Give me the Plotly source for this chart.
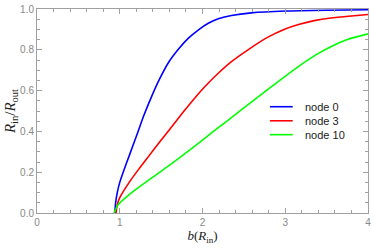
import plotly.graph_objects as go

# node 0 (blue)
x_node0 = [0.94, 0.95, 0.97, 1.0, 1.05, 1.114, 1.213, 1.293, 1.40, 1.473, 1.593, 1.713, 1.83, 1.952, 2.07, 2.20, 2.35, 2.59, 3.00, 3.50, 4.00]
y_node0 = [0.0, 0.05, 0.10, 0.15, 0.21, 0.28, 0.39, 0.48, 0.585, 0.65, 0.74, 0.805, 0.857, 0.898, 0.93, 0.953, 0.968, 0.981, 0.99, 0.994, 0.996]

# node 3 (red)
x_node3 = [0.955, 0.97, 1.0, 1.114, 1.23, 1.353, 1.47, 1.593, 1.772, 1.91, 2.03, 2.19, 2.35, 2.55, 2.79, 3.00, 3.15, 3.35, 3.55, 3.80, 4.00]
y_node3 = [0.0, 0.04, 0.075, 0.15, 0.215, 0.28, 0.342, 0.405, 0.497, 0.565, 0.62, 0.685, 0.742, 0.80, 0.862, 0.902, 0.923, 0.943, 0.956, 0.966, 0.973]

# node 10 (green)
x_node10 = [0.93, 0.974, 1.114, 1.353, 1.593, 1.832, 2.03, 2.19, 2.35, 2.61, 2.95, 3.15, 3.35, 3.55, 3.75, 4.00]
y_node10 = [0.0, 0.037, 0.09, 0.162, 0.232, 0.305, 0.367, 0.418, 0.468, 0.55, 0.655, 0.715, 0.77, 0.815, 0.85, 0.878]

series_names = ["node 0", "node 3", "node 10"]
series_colors = ["#0000ff", "#ff0000", "#00ff00"]

x_ticks = [0, 1, 2, 3, 4]
y_ticks = [0.0, 0.2, 0.4, 0.6, 0.8, 1.0]
y_ticklabels = ["0.0", "0.2", "0.4", "0.6", "0.8", "1.0"]

fig = go.Figure()
for xs, ys, name, col in zip([x_node0, x_node3, x_node10], [y_node0, y_node3, y_node10], series_names, series_colors):
    fig.add_trace(go.Scatter(x=xs, y=ys, mode="lines", name=name, showlegend=False,
                             line=dict(color=col, width=1.6, shape="spline", smoothing=0.6)))

# manual legend (compact, like the reference)
leg_line_x0, leg_line_x1, leg_text_x = 0.7036, 0.7725, 0.805
leg_rows_y = [0.521, 0.452, 0.384]
for name, col, yy in zip(series_names, series_colors, leg_rows_y):
    fig.add_shape(type="line", xref="paper", yref="paper", x0=leg_line_x0, x1=leg_line_x1,
                  y0=yy, y1=yy, line=dict(color=col, width=1.6))
    fig.add_annotation(xref="paper", yref="paper", x=leg_text_x, y=yy, text=name, showarrow=False,
                       xanchor="left", yanchor="middle",
                       font=dict(family="Liberation Sans", size=11, color="#222"))

axis_col = "#a0a0a0"
lab_col = "#888888"
common = dict(showgrid=False, zeroline=False, showline=True, linecolor=axis_col, linewidth=1,
              mirror="ticks", ticks="inside", ticklen=5, tickcolor=axis_col, tickwidth=1,
              tickfont=dict(family="Liberation Sans", size=10, color=lab_col))

fig.update_xaxes(range=[0, 4], tickvals=x_ticks, ticktext=[str(v) for v in x_ticks],
                 minor=dict(dtick=0.2, ticks="inside", ticklen=3, tickcolor=axis_col, showgrid=False),
                 title=dict(text="<i>b</i>(<i>R</i><sub>in</sub>)",
                            font=dict(family="Liberation Serif", size=13, color="#222"), standoff=3),
                 **common)
fig.update_yaxes(range=[0, 1], tickvals=y_ticks, ticktext=y_ticklabels,
                 minor=dict(dtick=0.05, ticks="inside", ticklen=3, tickcolor=axis_col, showgrid=False),
                 title=dict(text="<i>R</i><sub>in</sub>/<i>R</i><sub>out</sub>",
                            font=dict(family="Liberation Serif", size=15, color="#222"), standoff=0),
                 **common)

fig.update_layout(
    width=374, height=250,
    margin=dict(l=37, r=3, t=6, b=37),
    paper_bgcolor="white", plot_bgcolor="white",
    showlegend=False,
)

fig.write_html("out.html", config={"displayModeBar": False},
               post_script="document.body.style.margin='0';document.body.style.overflow='hidden';")
